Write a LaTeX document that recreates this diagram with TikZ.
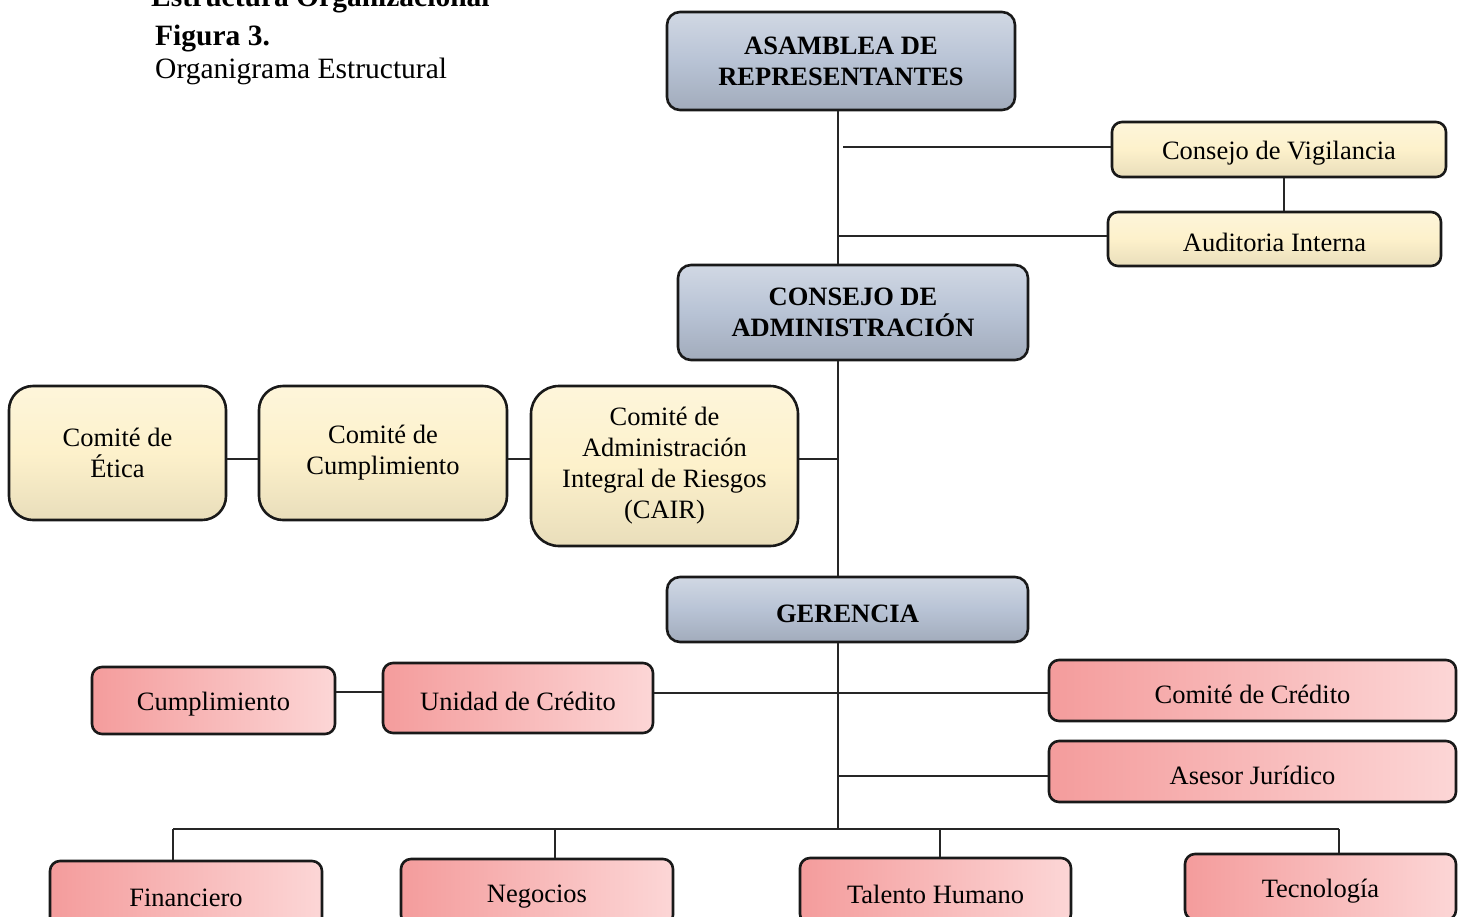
\documentclass[tikz,border=0pt]{standalone}
\usepackage{fontspec}
\setmainfont{Liberation Serif}
\definecolor{bluebox}{RGB}{184,195,213}
\definecolor{creambox}{RGB}{253,241,203}
\definecolor{pinkdark}{RGB}{244,156,156}
\definecolor{pinklight}{RGB}{252,214,214}
\definecolor{boxline}{RGB}{25,25,25}

\begin{document}
\begin{tikzpicture}[
	x=1pt, y=-1pt,
	box/.style={ rectangle, draw=boxline, line width=2.6pt, rounded corners=13pt, inner sep=4pt, align=center, font=\fontsize{26.5}{31}\selectfont, execute at begin node={\rule{0pt}{26pt}} },
	boxb/.style={ box, top color=bluebox!65!white, bottom color=bluebox!88!black, middle color=bluebox, font=\bfseries\fontsize{26.5}{31}\selectfont },
	boxc/.style={ box, top color=creambox!70!white, bottom color=creambox!92!black, middle color=creambox },
	boxp/.style={ box, left color=pinkdark, right color=pinklight, rounded corners=10pt },
	caption/.style={ anchor=base west, inner sep=0pt, font=\fontsize{29.5}{34}\selectfont },
	link/.style={ line width=1.5pt, draw=black!85 }
]
\useasboundingbox (0,0) rectangle (1464,916);
\clip (0,0) rectangle (1464,916);

\node at (151,6) (titulo) [caption, font=\bfseries\fontsize{29.5}{34}\selectfont] {Estructura Organizacional};
\node at (155,45) (figura) [caption, font=\bfseries\fontsize{29.5}{34}\selectfont] {Figura 3.};
\node at (155,78) (subtitulo) [caption] {Organigrama Estructural};

\node at (841,61) (asamblea) [boxb, minimum width=348pt, minimum height=98pt] {ASAMBLEA DE\\REPRESENTANTES};
\node at (1279,149.5) (vigilancia) [boxc, rounded corners=10pt, minimum width=334pt, minimum height=55pt] {Consejo de Vigilancia};
\node at (1274.5,239) (auditoria) [boxc, rounded corners=10pt, minimum width=333pt, minimum height=54pt] {Auditoria Interna};
\node at (853,312.5) (consejo) [boxb, minimum width=350pt, minimum height=95pt] {CONSEJO DE\\ADMINISTRACIÓN};

\node at (117.5,453) (etica) [boxc, rounded corners=24pt, minimum width=217pt, minimum height=134pt] {Comité de\\Ética};
\node at (383,453) (cumplcom) [boxc, rounded corners=24pt, minimum width=248pt, minimum height=134pt] {Comité de\\Cumplimiento};
\node at (664.5,466) (cair) [boxc, rounded corners=28pt, minimum width=267pt, minimum height=160pt] {Comité de\\Administración\\Integral de Riesgos\\(CAIR)};

\node at (847.5,609.5) (gerencia) [boxb, minimum width=361pt, minimum height=65pt] {GERENCIA};

\node at (213.5,700.5) (cumpl) [boxp, minimum width=243pt, minimum height=67pt] {Cumplimiento};
\node at (518,698) (unidad) [boxp, minimum width=270pt, minimum height=70pt] {Unidad de Crédito};
\node at (1252.5,690.5) (comcred) [boxp, minimum width=407pt, minimum height=61pt] {Comité de Crédito};
\node at (1252.5,771.5) (asesor) [boxp, minimum width=407pt, minimum height=61pt] {Asesor Jurídico};

\node at (186,894) (financiero) [boxp, minimum width=272pt, minimum height=66pt] {Financiero};
\node at (537,892) (negocios) [boxp, minimum width=272pt, minimum height=66pt] {Negocios};
\node at (935.5,891) (talento) [boxp, minimum width=271pt, minimum height=66pt] {Talento Humano};
\node at (1320.5,887) (tecnologia) [boxp, minimum width=271pt, minimum height=66pt] {Tecnología};

\coordinate (jvig) at (843,147);
\coordinate (jaud) at (838,236);
\coordinate (jva) at (1284,0);
\coordinate (jcom) at (838,459);
\coordinate (junid) at (838,692);
\coordinate (jcred) at (838,693);
\coordinate (jases) at (838,776);
\coordinate (jbus) at (838,829);
\coordinate (bfin) at (173,829);
\coordinate (bneg) at (555,829);
\coordinate (btal) at (940,829);
\coordinate (btec) at (1339,829);

\draw[link] (asamblea.south -| jaud) to (consejo.north -| jaud);
\draw[link] (jvig) to (jvig -| vigilancia.west);
\draw[link] (jaud) to (jaud -| auditoria.west);
\draw[link] (vigilancia.south -| jva) to (auditoria.north -| jva);
\draw[link] (consejo.south -| jaud) to (gerencia.north -| jaud);
\draw[link] (etica.east |- jcom) to (cumplcom.west |- jcom);
\draw[link] (cumplcom.east |- jcom) to (cair.west |- jcom);
\draw[link] (cair.east |- jcom) to (jcom);
\draw[link] (gerencia.south -| jbus) to (jbus);
\draw[link] (cumpl.east |- junid) to (unidad.west |- junid);
\draw[link] (unidad.east |- jcred) to (comcred.west |- jcred);
\draw[link] (jases) to (jases -| asesor.west);
\draw[link] (bfin) to (btec);
\draw[link] (bfin) to (bfin |- financiero.north);
\draw[link] (bneg) to (bneg |- negocios.north);
\draw[link] (btal) to (btal |- talento.north);
\draw[link] (btec) to (btec |- tecnologia.north);

\end{tikzpicture}
\end{document}
